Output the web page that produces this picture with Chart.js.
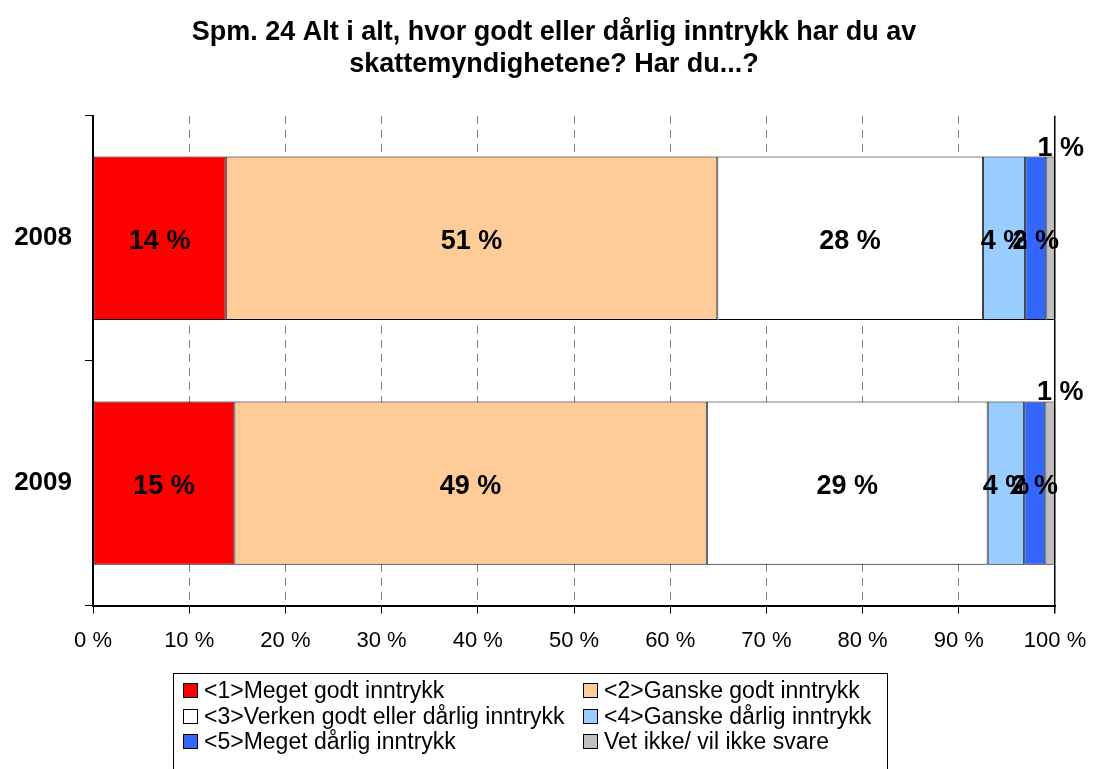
<!DOCTYPE html>
<html lang="no">
<head>
<meta charset="utf-8">
<title>Spm. 24 - inntrykk av skattemyndighetene</title>
<script src="https://cdn.jsdelivr.net/npm/chart.js@4/dist/chart.umd.min.js"></script>
<style>
  html, body { margin: 0; padding: 0; background: #fff; overflow: hidden; }
  #wrap { position: relative; width: 1093px; height: 769px; }
  #legenda {
    position: absolute; left: 173px; top: 673px; width: 715px; height: 110px;
    border: 1px solid #000; box-sizing: border-box;
    padding: 4px 0 0 9px;
    display: grid; grid-template-columns: 400px 300px; grid-auto-rows: 25.5px;
    font-family: "Liberation Sans", Arial, sans-serif; font-size: 23px; color: #000;
  }
  #legenda .item { display: flex; align-items: center; white-space: nowrap; }
  #legenda .caixa { width: 13px; height: 13px; border: 1px solid #000; margin-right: 6px; flex: none; }
</style>
</head>
<body>
<div id="wrap">
  <canvas id="grafico" width="1093" height="769"></canvas>
  <div id="legenda"></div>
</div>
<script>
// === DADOS ===
const anos = ['2008', '2009'];
const series = [
  '<1>Meget godt inntrykk',
  '<2>Ganske godt inntrykk',
  '<3>Verken godt eller dårlig inntrykk',
  '<4>Ganske dårlig inntrykk',
  '<5>Meget dårlig inntrykk',
  'Vet ikke/ vil ikke svare'
];
const meget_godt = [13.8, 14.7];
const ganske_godt = [51.1, 49.1];
const verken = [27.6, 29.2];
const ganske_darlig = [4.4, 3.8];
const meget_darlig = [2.2, 2.2];
const vet_ikke = [0.9, 1.0];
const cores = ['#FF0000', '#FFCC99', '#FFFFFF', '#99CCFF', '#3366FF', '#C0C0C0'];
const ticksX = [0, 10, 20, 30, 40, 50, 60, 70, 80, 90, 100];

const valores = [meget_godt, ganske_godt, verken, ganske_darlig, meget_darlig, vet_ikke];
const fonte = '"Liberation Sans", Arial, sans-serif';

// rótulos "xx %" dentro das barras (o último vai em cima da barra)
const rotulos = {
  id: 'rotulos',
  afterLayout(chart) {
    // título centralizado um pouco à direita, como no original
    chart.titleBlock.left = 15;
    chart.titleBlock.right = 1093;
  },
  afterDatasetsDraw(chart) {
    const ctx = chart.ctx;
    ctx.save();
    ctx.font = 'bold 27px ' + fonte;
    ctx.fillStyle = '#000';
    ctx.textAlign = 'center';
    chart.data.datasets.forEach((ds, i) => {
      chart.getDatasetMeta(i).data.forEach((bar, j) => {
        const txt = Math.round(ds.data[j]) + ' %';
        const cx = (bar.x + bar.base) / 2;
        if (i === chart.data.datasets.length - 1) {
          ctx.textBaseline = 'alphabetic';
          ctx.fillText(txt, cx + 10, bar.y - bar.height / 2 - 1);
        } else {
          ctx.textBaseline = 'middle';
          ctx.fillText(txt, cx, bar.y + 3);
        }
      });
    });
    ctx.restore();
  }
};

const grafico = new Chart(document.getElementById('grafico'), {
  type: 'bar',
  data: {
    labels: anos,
    datasets: series.map((nome, i) => ({
      label: nome,
      data: valores[i],
      backgroundColor: cores[i],
      borderColor: '#000',
      borderWidth: 1,
      borderSkipped: false,
      barPercentage: 0.667,
      categoryPercentage: 1
    }))
  },
  options: {
    indexAxis: 'y',
    responsive: false,
    animation: false,
    layout: { padding: { left: 8, right: 38, top: 0, bottom: 101 } },
    plugins: {
      legend: { display: false },
      tooltip: { enabled: false },
      title: {
        display: true,
        text: ['Spm. 24 Alt i alt, hvor godt eller dårlig inntrykk har du av', 'skattemyndighetene? Har du...?'],
        color: '#000',
        font: { family: fonte, size: 27, weight: 'bold' },
        padding: { top: 16, bottom: 35 }
      }
    },
    scales: {
      x: {
        stacked: true,
        min: 0,
        max: 100,
        afterBuildTicks: (axis) => { axis.ticks = ticksX.map(v => ({ value: v })); },
        afterFit: (axis) => { axis.paddingLeft = 0; axis.paddingRight = 0; },
        ticks: {
          color: '#000',
          padding: 14,
          font: { family: fonte, size: 22 },
          callback: (v) => v + ' %'
        },
        grid: {
          color: (c) => c.tick && c.tick.value === 100 ? '#000' : '#808080',
          lineWidth: (c) => c.tick && c.tick.value === 100 ? 1.5 : 1,
          tickColor: '#000',
          tickLength: 8
        },
        border: {
          color: '#000',
          width: 2,
          dash: (c) => c.tick && c.tick.value === 100 ? [] : [8, 6]
        }
      },
      y: {
        stacked: true,
        offset: true,
        afterFit: (axis) => { axis.width = 85; },
        ticks: {
          color: '#000',
          padding: 13,
          font: { family: fonte, size: 26, weight: 'bold' }
        },
        grid: {
          offset: true,
          drawOnChartArea: false,
          color: '#000',
          tickLength: 8
        },
        border: { color: '#000', width: 2 }
      }
    }
  },
  plugins: [rotulos]
});

// === LEGENDA (duas colunas, com moldura) ===
const legenda = document.getElementById('legenda');
series.forEach((nome, i) => {
  const item = document.createElement('div');
  item.className = 'item';
  const caixa = document.createElement('span');
  caixa.className = 'caixa';
  caixa.style.background = cores[i];
  const texto = document.createElement('span');
  texto.textContent = nome;
  item.appendChild(caixa);
  item.appendChild(texto);
  legenda.appendChild(item);
});
</script>
</body>
</html>
